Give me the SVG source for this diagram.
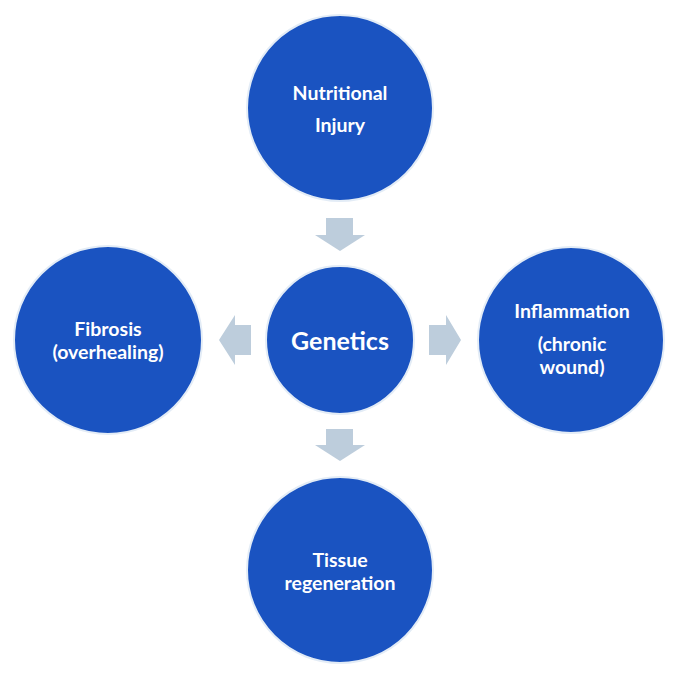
<svg xmlns="http://www.w3.org/2000/svg" width="682" height="682" viewBox="0 0 682 682">
<style>
.node{fill:#1A53C1;stroke:#E3ECF6;stroke-width:2}
.lbl{fill:#FFFFFF;font-family:Lato,"Open Sans","Liberation Sans",sans-serif;font-weight:bold;font-size:19.5px;text-anchor:middle}
.big{font-size:25px}
.arr{fill:#BDCDDC}
</style>
<rect width="682" height="682" fill="#FFFFFF"/>
<g id="connectors">
<polygon class="arr" points="326,218 353,218 353,235 365,235 340,251 315,235 326,235"/>
<polygon class="arr" points="326,429 353,429 353,445 365,445 340,461 315,445 326,445"/>
<polygon class="arr" points="251,325 251,355 235,355 235,365 219,340 235,315 235,325"/>
<polygon class="arr" points="429,325 429,355 446,355 446,365 461,340 446,315 446,325"/>
</g>
<g id="nutritional-injury">
<circle class="node" cx="340" cy="108" r="93"/>
<text class="lbl" x="340" y="100">Nutritional</text>
<text class="lbl" x="340" y="132">Injury</text>
</g>
<g id="genetics">
<circle class="node" cx="340" cy="340" r="74"/>
<text class="lbl big" x="340" y="350">Genetics</text>
</g>
<g id="fibrosis">
<circle class="node" cx="108" cy="340" r="94"/>
<text class="lbl" x="108" y="336">Fibrosis</text>
<text class="lbl" x="108" y="359">(overhealing)</text>
</g>
<g id="inflammation">
<circle class="node" cx="571" cy="340" r="93"/>
<text class="lbl" x="572" y="318">Inflammation</text>
<text class="lbl" x="572" y="351">(chronic</text>
<text class="lbl" x="572" y="374">wound)</text>
</g>
<g id="tissue-regeneration">
<circle class="node" cx="340" cy="570" r="93"/>
<text class="lbl" x="340" y="567">Tissue</text>
<text class="lbl" x="340" y="590">regeneration</text>
</g>
</svg>
